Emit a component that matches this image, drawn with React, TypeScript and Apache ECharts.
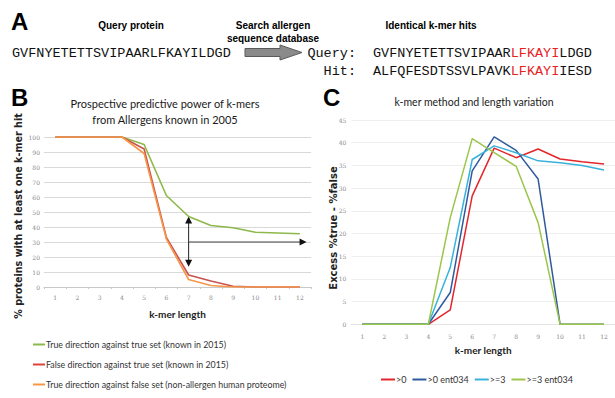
import React, { useEffect, useRef } from "react";
import * as echarts from "echarts";

const categories = ["1", "2", "3", "4", "5", "6", "7", "8", "9", "10", "11", "12"];

// Panel B
const bTrueTrue = [100, 100, 100, 100, 95, 61, 47, 41, 39.5, 36.5, 36, 35.5];
const bFalseTrue = [100, 100, 100, 100, 92, 33, 8, 4, 0.5, 0, 0, 0];
const bTrueFalse = [100, 100, 100, 100, 89, 32, 5, 1, 0, 0, 0, 0];
const bNames = [
  "True direction against true set (known in 2015)",
  "False direction against true set (known in 2015)",
  "True direction against false set (non-allergen human proteome)",
];

// Panel C
const cGt0 = [0, 0, 0, 0, 3.2, 28.3, 38.8, 36.7, 38.6, 36.4, 35.8, 35.3];
const cGt0Ent = [0, 0, 0, 0, 7, 33.8, 41.3, 38.3, 32, 0, 0, 0];
const cGe3 = [0, 0, 0, 0, 12.5, 36.3, 39.3, 37.8, 36, 35.6, 35, 34];
const cGe3Ent = [0, 0, 0, 0, 23.5, 40.9, 37.8, 34.8, 22.4, 0, 0, 0];
const cNames = [">0", ">0 ent034", ">=3", ">=3 ent034"];

// Panel A
const querySeq = ["GVFNYETETTSVIPAAR", "LFKAYI", "LDGD"];
const hitSeq = ["ALFQFESDTSSVLPAVK", "LFKAYI", "IESD"];
const proteinSeq = "GVFNYETETTSVIPAARLFKAYILDGD";

// Arrow annotation (in data units of panel B)
const arrowCat = "7";
const arrowTop = 47;
const arrowBottom = 13.5;
const arrowMid = 30;

const SANS = "Lato, 'Open Sans', sans-serif";
const MONO = "'Liberation Mono', monospace";
const BOLD = "'Liberation Sans', Arial, sans-serif";
const DJ = "'DejaVu Sans', sans-serif";

export default function App() {
  const ref = useRef<HTMLDivElement>(null);
  useEffect(() => {
    if (!ref.current) return;
    const chart = echarts.init(ref.current, undefined, { renderer: "svg" });

    const catAxis = (gridIndex: number, labelMargin: number) => ({
      type: "category",
      gridIndex,
      data: categories,
      boundaryGap: true,
      name: "k-mer length",
      nameLocation: "middle",
      nameGap: gridIndex === 0 ? 22 : 21,
      nameTextStyle: { fontFamily: SANS, fontSize: 10, color: "#222", fontWeight: "bold" },
      axisLine: { lineStyle: { color: gridIndex === 0 ? "#c8c8c8" : "#e4e4e4" } },
      axisTick: { show: gridIndex === 0, length: 2, lineStyle: { color: "#c8c8c8" } },
      axisLabel: { fontSize: 6, color: "#888", margin: labelMargin, fontFamily: "'DejaVu Serif', serif" },
    });

    const option: any = {
      animation: false,
      backgroundColor: "#ffffff",
      grid: [
        { left: 44, right: 304, top: 137, bottom: 111, containLabel: false },
        { left: 351.4, right: -7, top: 120, bottom: 73.7, containLabel: false },
      ],
      xAxis: [catAxis(0, 7), catAxis(1, 9)],
      yAxis: [
        {
          type: "value",
          gridIndex: 0,
          min: 0,
          max: 100,
          interval: 10,
          axisLine: { show: false },
          axisTick: { show: false },
          axisLabel: { fontSize: 6, color: "#888", margin: 4, fontFamily: "'DejaVu Serif', serif" },
          splitLine: { lineStyle: { color: "#d9d9d9" } },
        },
        {
          type: "value",
          gridIndex: 1,
          min: 0,
          max: 45,
          interval: 5,
          axisLine: { show: false },
          axisTick: { show: false },
          axisLabel: { fontSize: 6, color: "#888", margin: 5, fontFamily: "'DejaVu Serif', serif" },
          splitLine: { lineStyle: { color: "#eeeeee" } },
        },
      ],
      legend: [
        {
          orient: "vertical",
          left: 33,
          top: 340,
          itemGap: 11,
          itemWidth: 12,
          itemHeight: 2,
          icon: "rect",
          data: bNames,
          textStyle: { fontFamily: SANS, fontSize: 8.8, color: "#333", padding: [0, 0, 0, -4] },
          padding: 0,
        },
        {
          orient: "horizontal",
          left: 381,
          top: 375,
          itemGap: 6,
          itemWidth: 14,
          itemHeight: 2,
          icon: "rect",
          data: cNames,
          textStyle: { fontFamily: SANS, fontSize: 9, color: "#333", padding: [0, 0, 0, -4] },
          padding: 0,
        },
      ],
      series: [
        { name: bNames[0], type: "line", xAxisIndex: 0, yAxisIndex: 0, data: bTrueTrue, symbol: "none", lineStyle: { width: 1.6, color: "#8DB84A" }, itemStyle: { color: "#8DB84A" } },
        { name: bNames[1], type: "line", xAxisIndex: 0, yAxisIndex: 0, data: bFalseTrue, symbol: "none", lineStyle: { width: 1.6, color: "#C9524F" }, itemStyle: { color: "#E0413A" } },
        { name: bNames[2], type: "line", xAxisIndex: 0, yAxisIndex: 0, data: bTrueFalse, symbol: "none", lineStyle: { width: 1.6, color: "#F79646" }, itemStyle: { color: "#F79646" } },
        { name: cNames[0], type: "line", xAxisIndex: 1, yAxisIndex: 1, data: cGt0, symbol: "none", lineStyle: { width: 1.5, color: "#E3262B" }, itemStyle: { color: "#E3262B" } },
        { name: cNames[1], type: "line", xAxisIndex: 1, yAxisIndex: 1, data: cGt0Ent, symbol: "none", lineStyle: { width: 1.5, color: "#2F5A9E" }, itemStyle: { color: "#2F5A9E" } },
        { name: cNames[2], type: "line", xAxisIndex: 1, yAxisIndex: 1, data: cGe3, symbol: "none", lineStyle: { width: 1.5, color: "#38B2DD" }, itemStyle: { color: "#38B2DD" } },
        { name: cNames[3], type: "line", xAxisIndex: 1, yAxisIndex: 1, data: cGe3Ent, symbol: "none", lineStyle: { width: 1.5, color: "#9CC54B" }, itemStyle: { color: "#9CC54B" } },
      ],
    };
    chart.setOption(option);

    // Arrows computed from panel B scales
    const pTop = chart.convertToPixel({ gridIndex: 0 }, [arrowCat, arrowTop]) as number[];
    const pBot = chart.convertToPixel({ gridIndex: 0 }, [arrowCat, arrowBottom]) as number[];
    const pMid = chart.convertToPixel({ gridIndex: 0 }, [arrowCat, arrowMid]) as number[];
    const p11 = chart.convertToPixel({ gridIndex: 0 }, ["11", arrowMid]) as number[];
    const p12 = chart.convertToPixel({ gridIndex: 0 }, ["12", arrowMid]) as number[];
    const rightX = p12[0] + (p12[0] - p11[0]) * 0.3;
    const ax = pTop[0];
    const hl = 7, hw = 3.5;
    const black = { fill: "#111" };

    const titleFont = `11px ${SANS}`;
    const graphics: any[] = [
      // panel letters
      { type: "text", left: 11, top: 9, style: { text: "A", font: `bold 24px ${BOLD}`, fill: "#000" } },
      { type: "text", left: 11, top: 85, style: { text: "B", font: `bold 24px ${BOLD}`, fill: "#000" } },
      { type: "text", left: 323, top: 85, style: { text: "C", font: `bold 24px ${BOLD}`, fill: "#000" } },
      // panel A
      { type: "text", x: 131, y: 25, style: { text: "Query protein", font: `bold 10px ${BOLD}`, fill: "#000", align: "center", verticalAlign: "middle" } },
      { type: "text", x: 273, y: 25, style: { text: "Search allergen", font: `bold 10px ${BOLD}`, fill: "#000", align: "center", verticalAlign: "middle" } },
      { type: "text", x: 273, y: 38, style: { text: "sequence database", font: `bold 10px ${BOLD}`, fill: "#000", align: "center", verticalAlign: "middle" } },
      { type: "text", x: 431, y: 25, style: { text: "Identical k-mer hits", font: `bold 10px ${BOLD}`, fill: "#000", align: "center", verticalAlign: "middle" } },
      { type: "text", x: 12, y: 53, style: { text: proteinSeq, font: `13.5px ${MONO}`, fill: "#111", verticalAlign: "middle" } },
      {
        type: "polygon",
        shape: { points: [[245, 48.5], [280, 48.5], [280, 45], [302, 52.5], [280, 60], [280, 56.5], [245, 56.5]] },
        style: { fill: "#8a8a8a", stroke: "#5a5a5a", lineWidth: 1 },
      },
      { type: "text", x: 356, y: 53, style: { text: "Query:", font: `13.5px ${MONO}`, fill: "#111", align: "right", verticalAlign: "middle" } },
      { type: "text", x: 356, y: 71, style: { text: "Hit:", font: `13.5px ${MONO}`, fill: "#111", align: "right", verticalAlign: "middle" } },
      {
        type: "text", x: 373, y: 53,
        style: {
          text: `{a|${querySeq[0]}}{r|${querySeq[1]}}{a|${querySeq[2]}}`,
          verticalAlign: "middle",
          rich: { a: { font: `13.5px ${MONO}`, fill: "#111" }, r: { font: `13.5px ${MONO}`, fill: "#E8231F" } },
        },
      },
      {
        type: "text", x: 373, y: 71,
        style: {
          text: `{a|${hitSeq[0]}}{r|${hitSeq[1]}}{a|${hitSeq[2]}}`,
          verticalAlign: "middle",
          rich: { a: { font: `13.5px ${MONO}`, fill: "#111" }, r: { font: `13.5px ${MONO}`, fill: "#E8231F" } },
        },
      },
      // titles
      { type: "text", x: 165, y: 103, style: { text: "Prospective predictive power of k-mers", font: titleFont, fill: "#1a1a1a", align: "center", verticalAlign: "middle" } },
      { type: "text", x: 165, y: 119, style: { text: "from Allergens known in 2005", font: titleFont, fill: "#1a1a1a", align: "center", verticalAlign: "middle" } },
      { type: "text", x: 474, y: 102, style: { text: "k-mer method and length variation", font: `10.5px ${SANS}`, fill: "#1a1a1a", align: "center", verticalAlign: "middle" } },
      // y axis names
      { type: "text", x: 18, y: 216, rotation: Math.PI / 2, style: { text: "% proteins with at least one k-mer hit", font: `bold 9.6px ${DJ}`, fill: "#222", align: "center", verticalAlign: "middle" } },
      { type: "text", x: 333, y: 228, rotation: Math.PI / 2, style: { text: "Excess %true - %false", font: `bold 10px ${DJ}`, fill: "#222", align: "center", verticalAlign: "middle" } },
      // arrows
      { type: "line", shape: { x1: ax, y1: pTop[1] + hl - 1, x2: ax, y2: pBot[1] - hl + 1 }, style: { stroke: "#222", lineWidth: 1 } },
      { type: "polygon", shape: { points: [[ax, pTop[1]], [ax - hw, pTop[1] + hl], [ax + hw, pTop[1] + hl]] }, style: black },
      { type: "polygon", shape: { points: [[ax, pBot[1]], [ax - hw, pBot[1] - hl], [ax + hw, pBot[1] - hl]] }, style: black },
      { type: "line", shape: { x1: ax, y1: pMid[1], x2: rightX - hl + 1, y2: pMid[1] }, style: { stroke: "#444", lineWidth: 1 } },
      { type: "polygon", shape: { points: [[rightX, pMid[1]], [rightX - hl, pMid[1] - hw], [rightX - hl, pMid[1] + hw]] }, style: black },
    ];
    chart.setOption({ graphic: graphics });

    return () => chart.dispose();
  }, []);
  return (
    <div
      ref={ref}
      style={{ position: "fixed", left: 0, top: 0, width: 615, height: 398, background: "#fff" }}
    />
  );
}
